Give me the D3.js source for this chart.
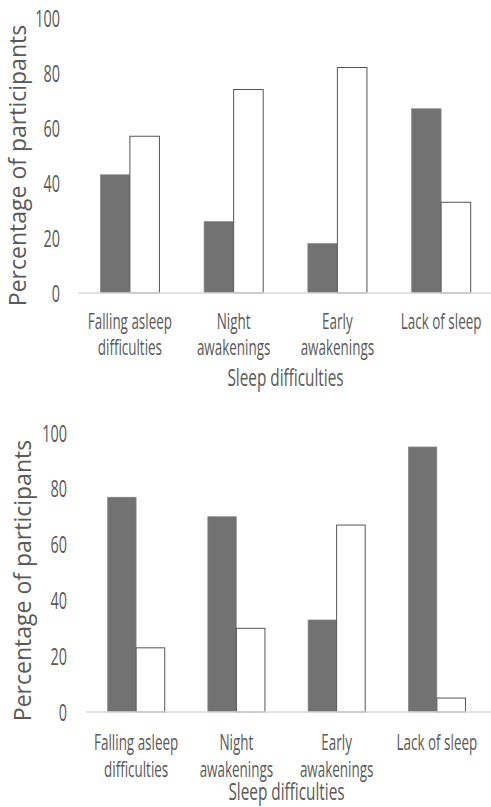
<!DOCTYPE html>
<html>
<head>
<meta charset="utf-8">
<script src="https://cdn.jsdelivr.net/npm/d3@7"></script>
<style>
  body { margin: 0; background: #fff; }
  svg text { font-family: "Open Sans", "Liberation Sans", sans-serif; fill: #595959; }
</style>
</head>
<body>
<svg id="chart" width="491" height="807"></svg>
<script>
// chart values
const categories = [["Falling asleep", "difficulties"], ["Night", "awakenings"], ["Early", "awakenings"], ["Lack of sleep"]];
const topDark = [43, 26, 18, 67];
const topWhite = [57, 74, 82, 33];
const bottomDark = [77, 70, 33, 95];
const bottomWhite = [23, 30, 67, 5];
const yTicks = [0, 20, 40, 60, 80, 100];

const svg = d3.select("#chart");
const squish = 0.64; // horizontal text in the picture is narrowed

// one bar panel
function drawPanel(box, dark, white) {
    const g = svg.append("g");
    const x = d3.scaleBand()
        .domain(d3.range(categories.length))
        .range([box.left, box.right])
        .paddingInner(0.43)
        .paddingOuter(0.215);
    const sub = d3.scaleBand().domain([0, 1]).range([0, x.bandwidth()]);
    const y = d3.scaleLinear().domain([0, 100]).range([box.bottom, box.top]);

    // bars: dark then white
    const rows = categories.map((c, i) => [dark[i], white[i]]);
    const grp = g.selectAll("g.cat")
        .data(rows)
        .join("g")
        .attr("transform", (d, i) => `translate(${x(i)},0)`);
    grp.selectAll("rect")
        .data(d => d)
        .join("rect")
        .attr("x", (d, j) => sub(j))
        .attr("width", sub.bandwidth())
        .attr("y", d => y(d))
        .attr("height", d => y(0) - y(d))
        .attr("fill", (d, j) => j === 0 ? "#727272" : "#fff")
        .attr("stroke", (d, j) => j === 0 ? "#8a8a8a" : "#555")
        .attr("stroke-width", (d, j) => j === 0 ? 0.6 : 1);

    // baseline
    g.append("line")
        .attr("x1", box.left).attr("x2", box.right + 10)
        .attr("y1", y(0)).attr("y2", y(0))
        .attr("stroke", "#d9d9d9").attr("stroke-width", 1.5);

    // y tick labels
    g.selectAll("text.ytick")
        .data(yTicks)
        .join("text")
        .attr("class", "ytick")
        .attr("transform", d => `translate(${box.left - box.tickGap},${y(d)}) scale(0.6,1)`)
        .attr("text-anchor", "end")
        .attr("dy", "0.36em")
        .style("font-size", "24px")
        .text(d => d);

    // category labels
    const lab = g.selectAll("text.cat")
        .data(categories)
        .join("text")
        .attr("class", "cat")
        .attr("transform", (d, i) => `translate(${x(i) + x.bandwidth() / 2},${y(0) + box.labelGap}) scale(${squish},1)`)
        .attr("text-anchor", "middle")
        .style("font-size", "21px");
    lab.selectAll("tspan")
        .data(d => d)
        .join("tspan")
        .attr("x", 0)
        .attr("dy", (d, k) => k === 0 ? 0 : box.lineGap)
        .text(d => d);

    // x axis title
    g.append("text")
        .attr("transform", `translate(${(box.left + box.right) / 2},${y(0) + box.titleGap}) scale(${squish},1)`)
        .attr("text-anchor", "middle")
        .style("font-size", "24px")
        .text("Sleep difficulties");

    // y axis title
    g.append("text")
        .attr("transform", `translate(${box.yTitleX},${(box.top + box.bottom) / 2 + box.yTitleShift}) rotate(-90)`)
        .attr("text-anchor", "middle")
        .style("font-size", "23px")
        .text("Percentage of participants");
}

drawPanel({ left: 78, right: 493, top: 18, bottom: 293, tickGap: 18, labelGap: 36, lineGap: 26, titleGap: 93, yTitleX: 26, yTitleShift: 10 }, topDark, topWhite);
drawPanel({ left: 86, right: 487, top: 433, bottom: 712, tickGap: 19, labelGap: 38, lineGap: 27, titleGap: 88, yTitleX: 31, yTitleShift: 8 }, bottomDark, bottomWhite);
</script>
</body>
</html>
